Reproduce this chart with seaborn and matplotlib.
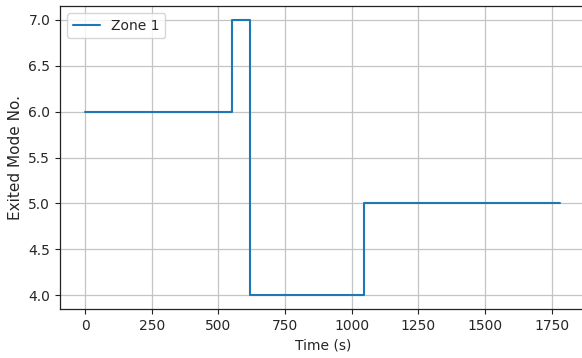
import matplotlib
matplotlib.use("Agg")
import matplotlib.pyplot as plt
import seaborn as sns
import pandas as pd

# Step data (time in s, exited mode no.)
time_s = [0, 552, 552, 618, 618, 1044, 1044, 1781]
mode_no = [6, 6, 7, 7, 4, 4, 5, 5]
series = ["Zone 1"] * len(time_s)

df = pd.DataFrame({"Time (s)": time_s, "Exited Mode No.": mode_no, "Zone": series})

sns.set_style("ticks")
plt.rcParams["font.family"] = ["DejaVu Sans"]

fig = plt.figure(figsize=(5.82, 3.58), dpi=100)
ax = fig.add_axes([60 / 582, 1 - 309 / 358, 527 / 582, 303 / 358])

sns.lineplot(data=df, x="Time (s)", y="Exited Mode No.", hue="Zone",
             palette=["#1f77b4"], sort=False, estimator=None, ax=ax, linewidth=1.5)

ax.set_xlim(-94, 1882)
ax.grid(True, color="#c4c4c4", linewidth=0.9)
ax.set_xticks([0, 250, 500, 750, 1000, 1250, 1500, 1750])
ax.set_yticks([4.0, 4.5, 5.0, 5.5, 6.0, 6.5, 7.0])
ax.set_yticklabels(["4.0", "4.5", "5.0", "5.5", "6.0", "6.5", "7.0"])
for s in ax.spines.values():
    s.set_color("#222222")
    s.set_linewidth(0.9)
ax.tick_params(colors="#222222", labelcolor="#262626", labelsize=10)
ax.set_xlabel("Time (s)", fontsize=10, color="#262626")
ax.set_ylabel("Exited Mode No.", fontsize=11, color="#262626")
leg = ax.legend(loc="upper left", fontsize=10)
leg.set_title(None)

fig.savefig("out.png", dpi=100)
